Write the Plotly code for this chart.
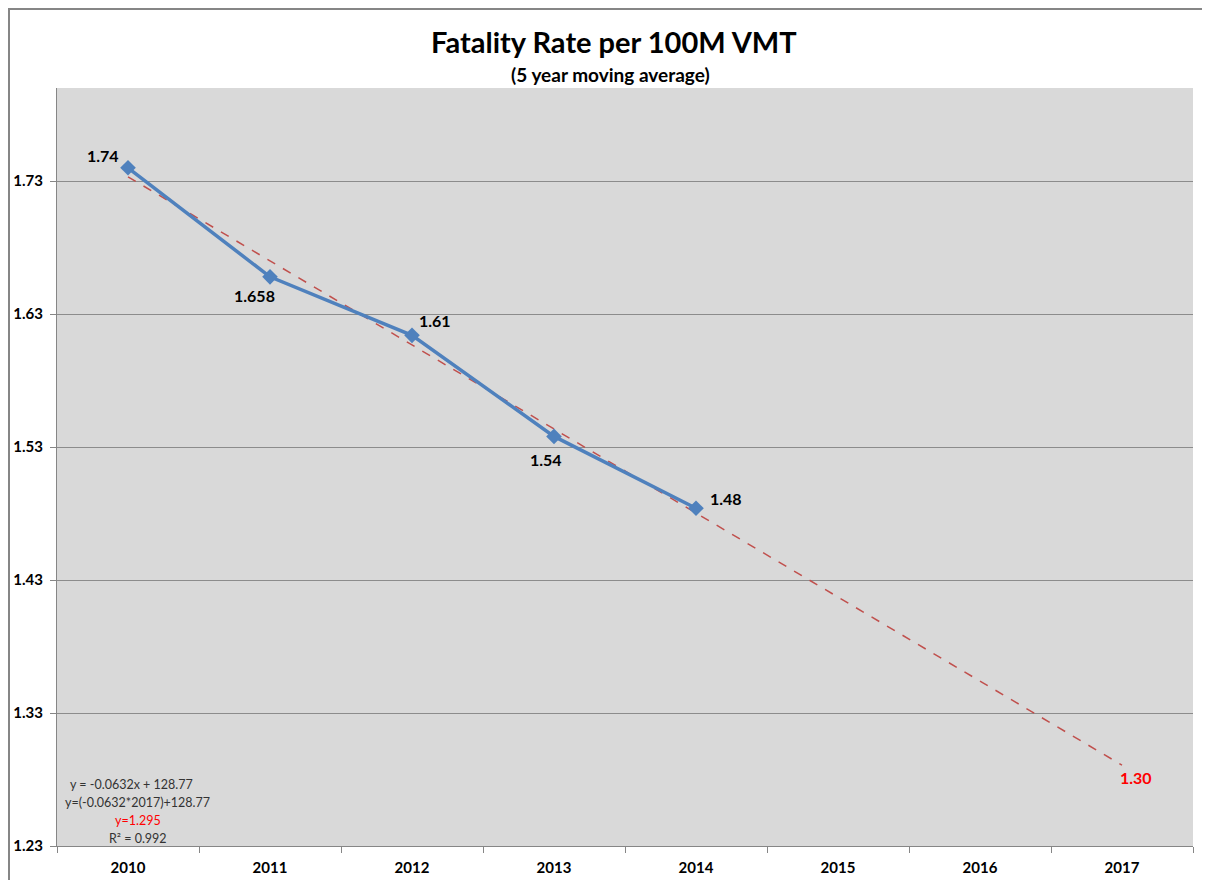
import numpy as np
import plotly.graph_objects as go

# ---- data ----
years = ["2010", "2011", "2012", "2013", "2014"]
rates = [1.74, 1.658, 1.614, 1.538, 1.484]
rate_labels = ["1.74", "1.658", "1.61", "1.54", "1.48"]
all_years = ["2010", "2011", "2012", "2013", "2014", "2015", "2016", "2017"]
y_ticks = [1.23, 1.33, 1.43, 1.53, 1.63, 1.73]
projection_label = "1.30"
equation_lines = ["y = -0.0632x + 128.77", "y=(-0.0632*2017)+128.77", "y=1.295", "R² = 0.992"]
title_text = "Fatality Rate per 100M VMT"
subtitle_text = "(5 year moving average)"

# linear trend computed from the data (as the spreadsheet trendline does)
xi = np.arange(len(years))
slope, intercept = np.polyfit(xi, rates, 1)
trend_x = all_years
trend_y = [intercept + slope * i for i in range(len(all_years))]

FONT = "Lato, 'Open Sans', Arial, sans-serif"
BLUE = "#4F81BD"
RED_DASH = "#C0504D"

# page offset of the plot div (body margin)
OFF = 8
W, H = 1210 - OFF, 880 - OFF
L, T = 57 - OFF, 88 - OFF
PW, PH = 1136, 758
R = W - L - PW
B = H - T - PH


def px_x(page_x):
    return (page_x - 57) / PW


def px_y(page_y):
    return (846 - page_y) / PH


fig = go.Figure()
fig.add_trace(go.Scatter(
    x=trend_x, y=trend_y, mode="lines",
    line=dict(color=RED_DASH, width=1.5, dash="dash"),
    hoverinfo="skip", showlegend=False))
fig.add_trace(go.Scatter(
    x=years, y=rates, mode="lines+markers",
    line=dict(color=BLUE, width=3.5),
    marker=dict(symbol="diamond", size=12, color=BLUE),
    showlegend=False))

# data labels (offsets in pixels); x given as category index
offsets = [(-25, 12), (-16, -19), (23, 15), (-8, -23), (30, 10)]
for i, (v, lab, (dx, dy)) in enumerate(zip(rates, rate_labels, offsets)):
    fig.add_annotation(x=all_years.index(years[i]), y=v, xref="x", yref="y",
                       text="<b>" + lab + "</b>", showarrow=False,
                       xshift=dx, yshift=dy,
                       font=dict(family=FONT, size=16, color="#000000"))

# projected value label
fig.add_annotation(x=len(all_years) - 1, y=trend_y[-1], xref="x", yref="y",
                   text="<b>" + projection_label + "</b>", showarrow=False,
                   xshift=14, yshift=-12,
                   font=dict(family=FONT, size=16, color="#FF0000"))

# equation text block
eq_colors = ["#333333", "#333333", "#FF0000", "#333333"]
eq_y = [784, 802, 820, 838]
eq_x = [131, 137, 138, 138]
for line, col, py, pxx in zip(equation_lines, eq_colors, eq_y, eq_x):
    fig.add_annotation(xref="paper", yref="paper",
                       x=px_x(pxx), y=px_y(py),
                       text=line, showarrow=False, xanchor="center", yanchor="middle",
                       font=dict(family=FONT, size=12.5, color=col))

# title and subtitle
fig.add_annotation(xref="paper", yref="paper", x=px_x(614), y=px_y(42),
                   text="<b>" + title_text + "</b>", showarrow=False,
                   xanchor="center", yanchor="middle",
                   font=dict(family=FONT, size=29, color="#000000"))
fig.add_annotation(xref="paper", yref="paper", x=px_x(610), y=px_y(74),
                   text="<b>" + subtitle_text + "</b>", showarrow=False,
                   xanchor="center", yanchor="middle",
                   font=dict(family=FONT, size=19, color="#000000"))

# outer chart border
fig.add_shape(type="rect", xref="paper", yref="paper",
              x0=px_x(9), x1=px_x(1240),
              y0=px_y(900), y1=px_y(9),
              line=dict(color="#868686", width=2), layer="below")

fig.update_layout(
    width=W, height=H,
    margin=dict(l=L, r=R, t=T, b=B, autoexpand=False),
    paper_bgcolor="#FFFFFF", plot_bgcolor="#D9D9D9",
    font=dict(family=FONT),
)
fig.update_xaxes(
    type="category", categoryorder="array", categoryarray=all_years,
    range=[-0.5, len(all_years) - 0.5], automargin=False,
    tickson="boundaries", ticks="outside", ticklen=6, tickcolor="#868686",
    ticklabelstandoff=8,
    showgrid=False, showline=True, linecolor="#868686", linewidth=1,
    tickfont=dict(family=FONT, size=15, color="#000000", weight="bold"),
    fixedrange=True)
fig.update_yaxes(
    range=[1.23, 1.80], tickvals=y_ticks, ticktext=[f"{t:.2f}" for t in y_ticks],
    automargin=False,
    ticks="outside", ticklen=6, tickcolor="#868686",
    ticklabelstandoff=4,
    showgrid=True, gridcolor="#8C8C8C", gridwidth=1,
    showline=True, linecolor="#868686", linewidth=1, zeroline=False,
    tickfont=dict(family=FONT, size=15, color="#000000", weight="bold"),
    fixedrange=True)

fig.write_html("out.html")
